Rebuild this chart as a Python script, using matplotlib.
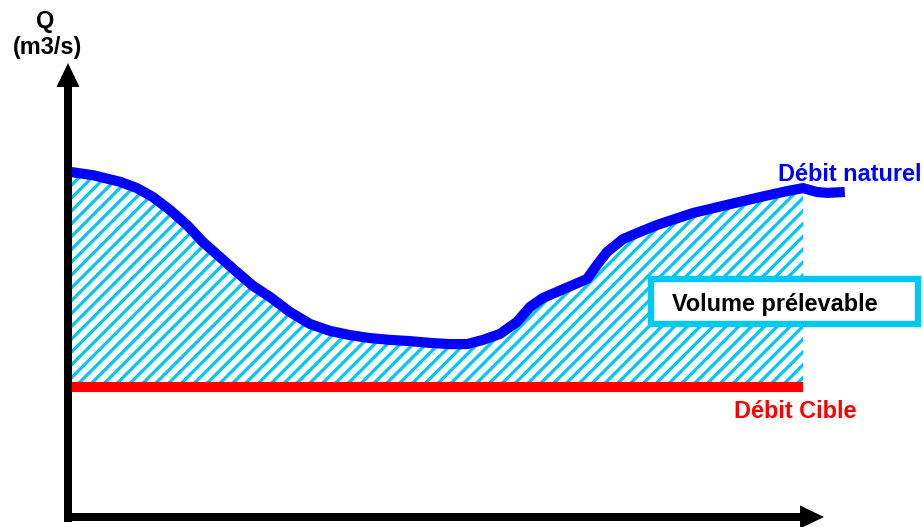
import numpy as np
import matplotlib.pyplot as plt
from matplotlib.patches import Rectangle

plt.rcParams['font.family'] = ['Liberation Sans', 'DejaVu Sans']
plt.rcParams['hatch.linewidth'] = 3.0

# natural flow (schematic), time in arbitrary units, Q in arbitrary units
t = np.array([0, 3.14, 6.82, 9.14, 11.32, 13.64, 15.96, 18.14, 20.46, 22.78,
              24.97, 27.29, 30.01, 32.74, 35.47, 38.2, 40.93, 43.66, 46.38,
              49.11, 51.84, 54.16, 56.34, 58.66, 60.98, 62.76, 64.53, 66.44,
              68.62, 70.53, 71.9, 73.26, 75.44, 77.76, 80.08, 85.0, 89.63,
              94.13, 97.82, 100.0, 101.9, 103.3, 105.7])
q = np.array([11.47, 11.36, 11.14, 10.93, 10.63, 10.2, 9.7, 9.13, 8.63, 8.13,
              7.67, 7.3, 6.8, 6.4, 6.17, 6.03, 5.93, 5.87, 5.83,
              5.77, 5.73, 5.73, 5.87, 6.07, 6.47, 6.97, 7.27, 7.47,
              7.7, 7.9, 8.37, 8.8, 9.23, 9.47, 9.7, 10.1, 10.37,
              10.63, 10.83, 10.93, 10.8, 10.77, 10.8])
q_target = 4.3
t_end = 100

W, H, DPI = 923, 527, 77
X0, Y0 = 70, 516        # pixel position of origin
PX_T, PX_Q = 7.33, 30   # pixels per unit


def ff(px, py):
    return px / W, 1 - py / H


fig = plt.figure(figsize=(W / DPI, H / DPI), dpi=DPI)
ax = fig.add_axes([0, 0, 1, 1])
ax.set_xlim(-X0 / PX_T, (W - X0) / PX_T)
ax.set_ylim((Y0 - H) / PX_Q, Y0 / PX_Q)
ax.axis('off')

mask = t <= t_end
ax.fill_between(t[mask], q[mask], q_target, facecolor='none',
                edgecolor='#00c8f0', hatch='//', linewidth=0, zorder=2)
ax.plot([0, t_end], [q_target, q_target], color='#ff0000', lw=9.5,
        solid_capstyle='butt', zorder=3)
ax.plot(t, q, color='#0000ff', lw=9.5, solid_capstyle='butt',
        solid_joinstyle='round', zorder=4)

# axes arrows
arrow = dict(width=7.5, headwidth=21.5, headlength=22.4, fc='black', ec='none')
ax.annotate('', xy=ff(68, 63), xytext=ff(68, 522), xycoords='figure fraction',
            textcoords='figure fraction', arrowprops=arrow, zorder=5)
ax.annotate('', xy=ff(824, 517), xytext=ff(64, 517), xycoords='figure fraction',
            textcoords='figure fraction', arrowprops=arrow, zorder=5)

# label box
bx0, by0 = ff(651, 324)
bx1, by1 = ff(918, 279)
fig.patches.append(Rectangle((bx0, by0), bx1 - bx0, by1 - by0,
                             transform=fig.transFigure, facecolor='white',
                             edgecolor='#00c8f0', lw=6, zorder=6))

fs = 22
fig.text(*ff(672, 311), 'Volume prélevable', fontsize=fs, fontweight='bold',
         color='black', ha='left', va='baseline', zorder=7)
fig.text(*ff(921, 181), 'Débit naturel', fontsize=fs, fontweight='bold',
         color='#0000ff', ha='right', va='baseline')
fig.text(*ff(734, 418), 'Débit Cible', fontsize=fs, fontweight='bold',
         color='#ff0000', ha='left', va='baseline')
fig.text(*ff(45, 28), 'Q', fontsize=fs, fontweight='bold', ha='center',
         va='baseline')
fig.text(*ff(47, 54), '(m3/s)', fontsize=fs, fontweight='bold', ha='center',
         va='baseline')

fig.savefig('out.png', dpi=DPI)
